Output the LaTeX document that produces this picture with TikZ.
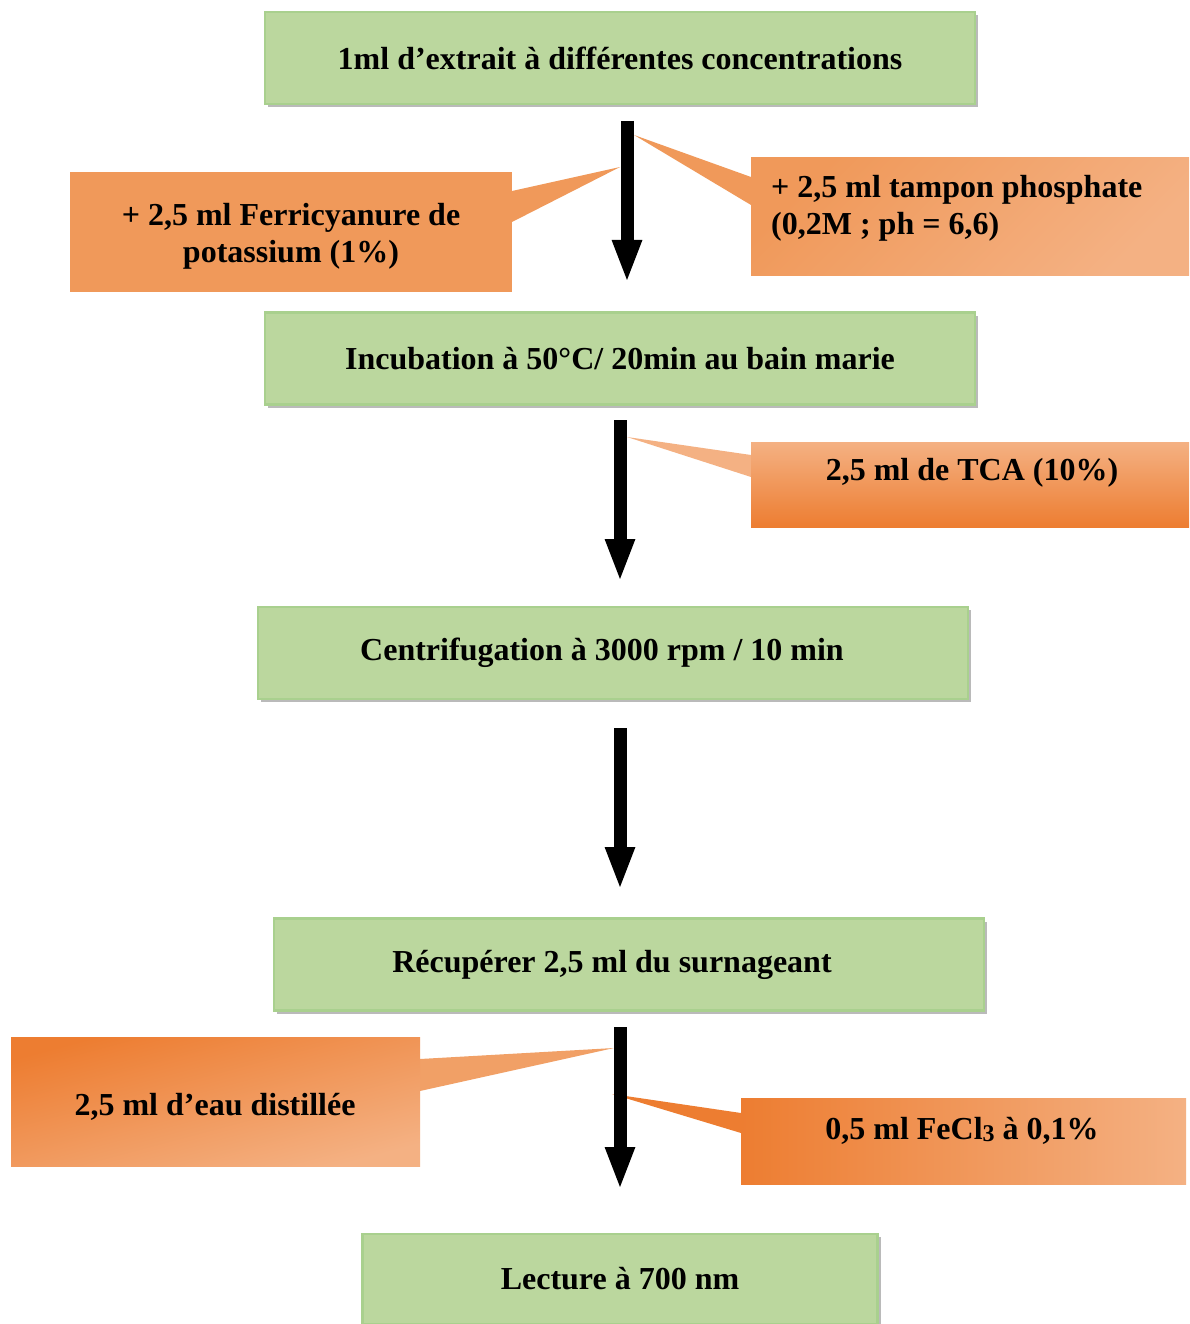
\documentclass[tikz,border=0pt]{standalone}
\usepackage{fontspec}
\setmainfont{Liberation Serif}
\usetikzlibrary{arrows.meta,shadows}
\definecolor{gfill}{RGB}{187,215,158}
\definecolor{gline}{RGB}{169,208,142}
\definecolor{odark}{RGB}{237,125,49}
\definecolor{omid}{RGB}{240,153,90}
\definecolor{olight}{RGB}{244,177,131}
\begin{document}
\begin{tikzpicture}[x=1pt,y=-1pt,
  bigfont/.style={font=\fontsize{32}{37}\selectfont\bfseries},
  greenbox/.style={bigfont, draw=gline, line width=2.5pt, fill=gfill,
    minimum width=710pt, minimum height=92pt, inner sep=0pt,
    drop shadow={shadow xshift=3pt, shadow yshift=-3pt, fill=black!45, opacity=0.6}},
  obox/.style={inner sep=0pt},
  txt/.style={bigfont, inner sep=0pt},
  flowarrow/.style={line width=13pt, -{Triangle[width=27pt,length=43pt]}},
]
\fill[white] (0,0) rectangle (1189,1324);
\useasboundingbox (0,0) rectangle (1189,1324);

% pointers of callouts
\fill[omid] (512,191) -- (620,167) -- (512,222) -- cycle;
\fill[omid] (751,177) -- (634,135) -- (751,205) -- cycle;
\fill[olight] (751,455) -- (627,437) -- (751,477) -- cycle;
\fill[omid!70!olight] (420,1059) -- (614,1048) -- (420,1091) -- cycle;
\fill[odark] (741,1113) -- (612,1094) -- (741,1133) -- cycle;

% callouts
\node[obox, minimum width=442pt, minimum height=120pt, fill=omid] (c1) at (291,232) {};
\node[txt, align=center] (t1) at (291,236) {+ 2,5 ml Ferricyanure de\\potassium (1\%)};
\node[obox, minimum width=438pt, minimum height=117pt, top color=omid, bottom color=olight, shading angle=45] (c2) at (970,216.5) {};
\node[txt, anchor=west, align=left] (t2) at (771,208) {+ 2,5 ml tampon phosphate\\(0,2M ; ph = 6,6)};
\node[obox, minimum width=438pt, minimum height=85pt, top color=olight, bottom color=odark] (c3) at (970,484.5) {};
\node[txt] (t3) at (972,473) {2,5 ml de TCA (10\%)};
\node[obox, minimum width=409pt, minimum height=129pt, top color=odark, bottom color=olight, shading angle=15] (c4) at (215.5,1101.5) {};
\node[txt] (t4) at (215,1107) {2,5 ml d’eau distillée};
\node[obox, minimum width=445pt, minimum height=86pt, left color=odark, right color=olight] (c5) at (963.5,1141) {};
\node[txt] (t5) at (962,1131) {0,5 ml FeCl\raisebox{-1.5pt}{\fontsize{24}{24}\selectfont 3} à 0,1\%};

% arrows
\coordinate (a1s) at (627,121); \coordinate (a1e) at (627,283);
\coordinate (a2s) at (620,420); \coordinate (a2e) at (620,582);
\coordinate (a3s) at (620,728); \coordinate (a3e) at (620,890);
\coordinate (a4s) at (620,1027); \coordinate (a4e) at (620,1190);
\draw[flowarrow] (a1s) -- (a1e);
\draw[flowarrow] (a2s) -- (a2e);
\draw[flowarrow] (a3s) -- (a3e);
\draw[flowarrow] (a4s) -- (a4e);

% green boxes
\node[greenbox] (b1) at (620,58) {1ml d’extrait à différentes concentrations};
\node[greenbox] (b2) at (620,358.5) {Incubation à 50°C/ 20min au bain marie};
\node[greenbox] (b3) at (613,653) {\raisebox{-3pt}{Centrifugation à 3000 rpm / 10 min}\kern22pt};
\node[greenbox] (b4) at (629,964.5) {\raisebox{-3pt}{Récupérer 2,5 ml du surnageant}\kern34pt};
\node[greenbox, minimum width=515pt, minimum height=90pt] (b5) at (620,1279) {\raisebox{-2pt}{Lecture à 700 nm}};
\end{tikzpicture}
\end{document}
